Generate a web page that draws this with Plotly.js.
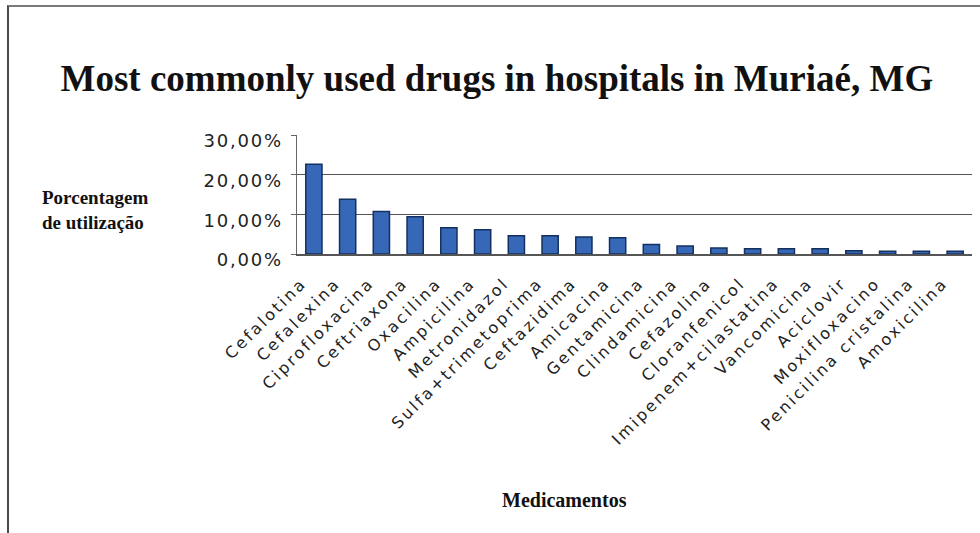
<!DOCTYPE html>
<html>
<head>
<meta charset="utf-8">
<script src="https://cdn.plot.ly/plotly-3.0.1.min.js"></script>
<style>
  html, body { margin: 0; padding: 0; background: #ffffff; }
  #frame { position: absolute; left: 7px; top: 5px; width: 1000px; height: 600px;
           border-left: 2px solid #4a4a4a; border-top: 2px solid #7a7a7a; }
  #chart { position: absolute; left: 0; top: 0; width: 980px; height: 533px; }
  .xtick text { letter-spacing: 2.6px; }
  .ytick text { letter-spacing: 1.8px; }
</style>
</head>
<body>
<div id="frame"></div>
<div id="chart"></div>
<script>
const drugs = [
  "Cefalotina", "Cefalexina", "Ciprofloxacina", "Ceftriaxona", "Oxacilina",
  "Ampicilina", "Metronidazol", "Sulfa+trimetoprima", "Ceftazidima", "Amicacina",
  "Gentamicina", "Clindamicina", "Cefazolina", "Cloranfenicol", "Imipenem+cilastatina",
  "Vancomicina", "Aciclovir", "Moxifloxacino", "Penicilina cristalina", "Amoxicilina"
];
const usage = [
  0.226, 0.138, 0.107, 0.094, 0.066,
  0.061, 0.046, 0.046, 0.043, 0.041,
  0.024, 0.020, 0.015, 0.013, 0.013,
  0.013, 0.008, 0.007, 0.007, 0.007
];
const yTicks = [0, 0.1, 0.2, 0.3];

const trace = {
  type: "bar",
  x: drugs,
  y: usage,
  marker: { color: "#3768b8", line: { color: "#14305e", width: 1.5 } },
  hoverinfo: "x+y"
};

const layout = {
  width: 980, height: 533,
  paper_bgcolor: "rgba(0,0,0,0)",
  plot_bgcolor: "rgba(0,0,0,0)",
  separators: ",.",
  margin: { l: 297, r: 8, t: 135, b: 279, pad: 0 },
  bargap: 0.52,
  showlegend: false,
  title: {
    text: "<b>Most commonly used drugs in hospitals in Muriaé, MG</b>",
    font: { family: "Liberation Serif", size: 37, color: "#111111" },
    xref: "container", x: 0.507, xanchor: "center",
    yref: "container", y: 0.853, yanchor: "middle"
  },
  xaxis: {
    type: "category",
    tickangle: -45,
    tickfont: { family: "DejaVu Sans", size: 16, color: "#222222" },
    showline: true, linecolor: "#555555", linewidth: 1.5,
    ticks: "", automargin: false,
    ticklabelstandoff: 12, ticklabelshift: -12,
    showgrid: false
  },
  yaxis: {
    range: [0, 0.3],
    tickvals: yTicks,
    tickformat: ".2%",
    tickfont: { family: "DejaVu Sans", size: 18, color: "#222222" },
    showline: true, linecolor: "#666666", linewidth: 1.5,
    ticks: "outside", ticklen: 5, tickcolor: "#666666",
    ticklabelstandoff: 4, ticklabelshift: 6,
    showgrid: true, gridcolor: "#555555", gridwidth: 1.5,
    zeroline: false, automargin: false
  },
  annotations: [
    {
      text: "<b>Porcentagem<br>de utilização</b>",
      xref: "paper", yref: "paper",
      x: -0.30, y: 0.37, xanchor: "center", yanchor: "middle",
      showarrow: false, align: "left",
      font: { family: "Liberation Serif", size: 19, color: "#111111" }
    },
    {
      text: "<b>Medicamentos</b>",
      xref: "paper", yref: "paper",
      x: 0.397, y: -2.07, xanchor: "center", yanchor: "middle",
      showarrow: false,
      font: { family: "Liberation Serif", size: 20, color: "#111111" }
    }
  ]
};

Plotly.newPlot("chart", [trace], layout, { displayModeBar: false, staticPlot: true });
</script>
</body>
</html>
